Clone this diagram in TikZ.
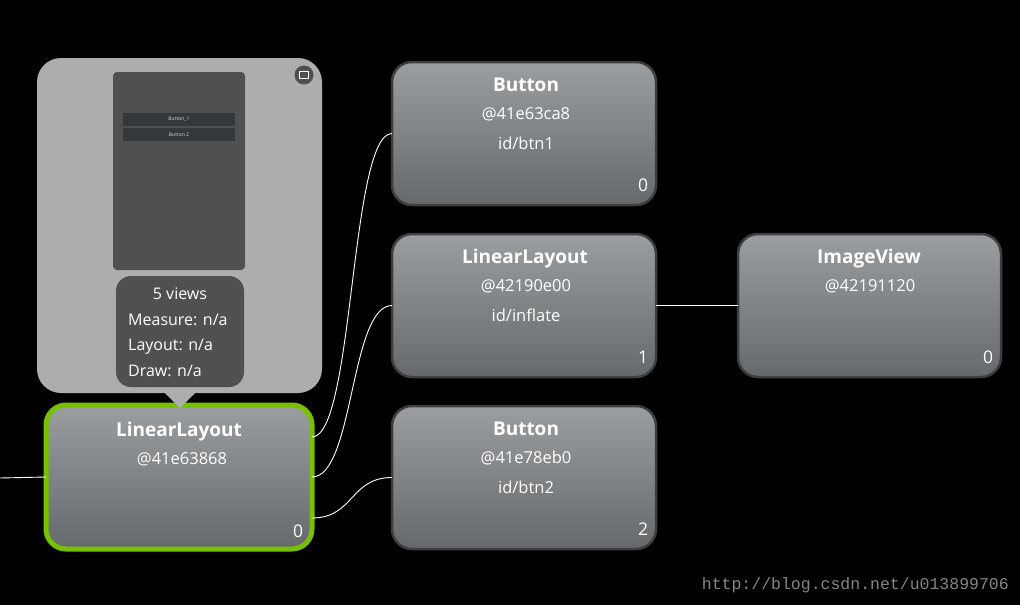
\documentclass[tikz,border=0pt]{standalone}
\usepackage{fontspec}
\setmainfont{Open Sans}
\newfontfamily\wmfont{Liberation Mono}
\usetikzlibrary{calc}
\definecolor{boxtop}{HTML}{9B9EA1}
\definecolor{boxbot}{HTML}{66696C}
\definecolor{boxedge}{HTML}{3E3E3E}
\definecolor{selgreen}{HTML}{76C000}
\definecolor{popgray}{HTML}{ADADAD}
\definecolor{popdark}{HTML}{505050}
\definecolor{phbtn}{HTML}{34383B}
\definecolor{wmgray}{HTML}{858585}
\tikzset{
  viewbox/.style={rectangle, rounded corners=20pt, minimum width=264pt, minimum height=143pt,
    top color=boxtop, bottom color=boxbot, draw=boxedge, line width=2.5pt, outer sep=0pt, inner sep=0pt},
  selbox/.style={viewbox, draw=selgreen, line width=5pt, minimum width=266pt, minimum height=144pt},
  ttl/.style={text=white, font=\bfseries\fontsize{19}{22}\selectfont, inner sep=0pt, anchor=base},
  sub/.style={text=white, font=\fontsize{16.5}{20}\selectfont, inner sep=0pt, anchor=base},
  idx/.style={text=white, font=\fontsize{17.5}{20}\selectfont, inner sep=0pt, anchor=base},
  info/.style={text=white, font=\fontsize{16}{20}\selectfont, inner sep=0pt, anchor=base west},
  conn/.style={white, line width=0.9pt},
}
\begin{document}
\begin{tikzpicture}[x=1pt,y=-1pt]
\fill[black] (0,0) rectangle (1020,605);
\useasboundingbox (0,0) rectangle (1020,605);

% view nodes
\node[viewbox] (btn1) at (524,133.5) {};
\node[viewbox] (ll2) at (524,305.5) {};
\node[viewbox] (btn2) at (524,477.5) {};
\node[viewbox, minimum width=263pt] (img) at (869.5,305.5) {};
\node[selbox] (root) at (179,477) {};

% texts
\node[ttl] (t1) at (526,91) {Button};
\node[sub] (a1) at (526,119) {@41e63ca8};
\node[sub] (i1) at (526,149) {id/btn1};
\node[idx] (n1) at (643,191.5) {0};

\node[ttl] (t2) at (525,263) {LinearLayout};
\node[sub] (a2) at (526,291) {@42190e00};
\node[sub] (i2) at (526,321) {id/inflate};
\node[idx] (n2) at (643,363.5) {1};

\node[ttl] (t3) at (526,435) {Button};
\node[sub] (a3) at (526,463) {@41e78eb0};
\node[sub] (i3) at (526,493) {id/btn2};
\node[idx] (n3) at (643,535.5) {2};

\node[ttl] (t4) at (869,263) {ImageView};
\node[sub] (a4) at (870,291) {@42191120};
\node[idx] (n4) at (988,363.5) {0};

\node[ttl] (t5) at (179,436) {LinearLayout};
\node[sub] (a5) at (182,464) {@41e63868};
\node[idx] (n5) at (298,537) {0};

% connectors
\coordinate (src) at (0,478);
\coordinate (r1) at ([yshift=40pt]root.east);
\coordinate (r2) at (root.east);
\coordinate (r3) at ([yshift=-41pt]root.east);
\draw[conn] (src) -- (root.west);
\draw[conn] (r1) .. controls +(42,0) and +(-42,0) .. (btn1.west);
\draw[conn] (r2) .. controls +(42,0) and +(-42,0) .. (ll2.west);
\draw[conn] (r3) .. controls +(42,0) and +(-42,0) .. (btn2.west);
\draw[conn] (ll2.east) -- (img.west);

% popup
\fill[popgray, rounded corners=24pt] (37,58) rectangle (322,393);
\fill[popgray] (164,392) -- (196,392) -- (180,408) -- cycle;
\fill[popdark, rounded corners=4pt] (113,72) rectangle (245,270);
\fill[phbtn] (123,113) rectangle (235,126);
\fill[phbtn] (123,128) rectangle (235,141);
\node[text=white!85!black, font=\fontsize{5}{6}\selectfont, inner sep=0pt] (pb1) at (179,119.5) {Button\_1};
\node[text=white!85!black, font=\fontsize{5}{6}\selectfont, inner sep=0pt] (pb2) at (179,134.5) {Button 2};
\fill[popdark, rounded corners=15pt] (116,276) rectangle (244,387);
\node[info, anchor=base] (v0) at (180,299) {5 views};
\node[info] (v1) at (128,325) {Measure: n/a};
\node[info] (v2) at (128,350) {Layout: n/a};
\node[info] (v3) at (128,376) {Draw: n/a};
\fill[popdark] (304,75) circle (9.5);
\draw[white, line width=1.2pt] (299.5,71.5) rectangle (308.5,78.5);

% watermark
\node[text=wmgray, font=\wmfont\fontsize{16.5}{18}\selectfont, inner sep=0pt, anchor=east] (wm) at (1009,585) {http://blog.csdn.net/u013899706};
\end{tikzpicture}
\end{document}
